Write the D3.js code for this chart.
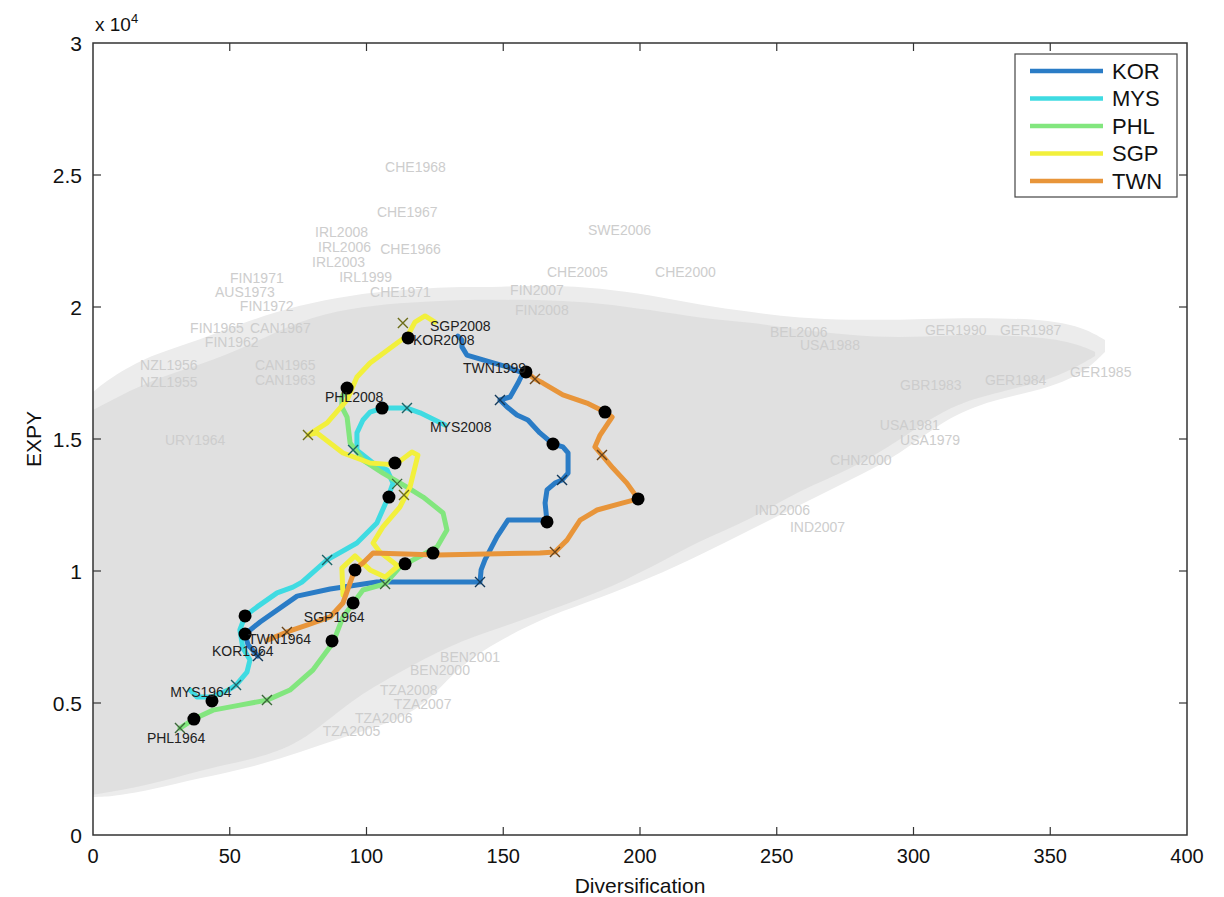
<!DOCTYPE html>
<html>
<head>
<meta charset="utf-8">
<script src="https://cdn.jsdelivr.net/npm/d3@7"></script>
<style>
  body { margin: 0; background: #fff; }
  svg { display: block; font-family: "Liberation Sans", Arial, sans-serif; }
</style>
</head>
<body>
<div id="chart"></div>
<script>
// axis ticks
const xTicks = [0, 50, 100, 150, 200, 250, 300, 350, 400];
const yTicks = [0, 5000, 10000, 15000, 20000, 25000, 30000];
const yTickLabels = ['0', '0.5', '1', '1.5', '2', '2.5', '3'];

// country trajectories, [diversification, EXPY]
const countries = ['KOR', 'MYS', 'PHL', 'SGP', 'TWN'];
const colors = ['#2a7cc6', '#3fdbe2', '#82e67e', '#f2f03c', '#e8953a'];

const korPath = [[60.3,6780],[56.7,7200],[55.6,7610],[61.1,8070],[74.6,9050],[86.7,9320],[103.8,9580],
  [123.2,9580],[141.5,9580],[141.9,10040],[143.3,10420],[147.7,11290],[151.7,11930],[164.5,11930],
  [166.0,11860],[165.3,12580],[166.0,13070],[168.9,13330],[171.5,13450],[173.7,13710],[173.7,14470],
  [171.8,14700],[168.2,14810],[163.4,15230],[159.0,15720],[155.0,15910],[151.4,16210],[148.8,16480],
  [152.5,16590],[155.4,17120],[157.2,17500],[151.4,17730],[145.1,17920],[136.7,18180],[134.9,18490],
  [134.9,18750],[133.4,18900]];
const mysPath = [[35.5,5490],[38.0,5230],[43.5,5230],[49.4,5490],[52.3,5680],[56.3,6170],[57.4,6630],
  [54.8,7080],[53.7,7770],[55.6,8300],[60.0,8640],[67.3,9170],[73.1,9390],[76.4,9580],[85.6,10420],
  [96.5,11060],[103.8,11820],[107.5,12690],[109.7,13330],[107.5,13830],[102.4,14090],[96.5,14580],
  [96.5,15230],[98.7,15720],[101.3,16020],[105.7,16170],[114.8,16170],[119.6,15990],[128.7,15530]];
const phlPath = [[31.8,4050],[36.9,4390],[43.9,4730],[53.7,4920],[63.6,5110],[72.0,5490],[80.4,6250],
  [87.7,7270],[91.4,8260],[98.7,9280],[106.8,9510],[112.2,10150],[125.8,10910],[129.4,11550],
  [128.0,12200],[120.7,12800],[114.8,13180],[106.0,13710],[98.7,14200],[94.0,14850],[92.9,15830],
  [91.0,16210],[91.0,16590],[92.9,16930]];
const sgpPath = [[91.4,9090],[91.0,10110],[95.8,10570],[101.3,10040],[106.8,9770],[111.5,10190],
  [104.9,10720],[102.4,11060],[106.0,11670],[112.2,12420],[115.9,13180],[118.8,14390],[116.6,14510],
  [110.4,14020],[101.3,14090],[91.4,14470],[81.9,15230],[78.6,15150],[85.6,15610],[92.9,16480],
  [96.5,17350],[101.3,17880],[111.2,18640],[115.2,18940],[117.7,19430],[121.4,19660],[125.0,19430]];
const twnPath = [[64.0,7390],[70.9,7690],[78.2,7950],[86.7,8260],[91.4,8790],[94.0,9550],[95.8,10080],
  [98.7,10300],[102.4,10680],[125.8,10610],[163.4,10680],[168.9,10720],[173.3,11170],[178.1,11930],
  [184.3,12310],[193.8,12580],[199.3,12730],[195.2,13330],[190.1,13900],[186.1,14390],[183.5,14700],
  [185.4,15150],[189.8,15830],[187.2,16020],[180.6,16360],[171.8,16670],[164.5,17120],[161.6,17270],
  [158.3,17540]];
const paths = [korPath, mysPath, phlPath, sgpPath, twnPath];

// decade markers (filled dots) and cross markers, with owning country
const dotPoints = [[115.2,18830],[92.9,16930],[105.7,16170],[110.4,14090],[108.2,12800],[124.3,10680],
  [114.1,10270],[95.8,10040],[95.1,8790],[87.4,7350],[55.6,8300],[55.6,7610],[43.5,5080],[36.9,4390],
  [158.3,17540],[187.2,16020],[168.2,14810],[199.3,12730],[166.0,11860]];
const crossPoints = [[113.3,19390,'SGP'],[78.6,15150,'SGP'],[114.8,16170,'MYS'],[95.1,14580,'MYS'],
  [111.2,13300,'PHL'],[113.7,12880,'SGP'],[85.6,10420,'MYS'],[106.8,9510,'PHL'],[141.5,9580,'KOR'],
  [168.9,10720,'TWN'],[148.8,16480,'KOR'],[161.6,17270,'TWN'],[186.1,14390,'TWN'],[171.5,13450,'KOR'],
  [70.9,7690,'TWN'],[60.3,6780,'KOR'],[52.3,5680,'MYS'],[63.6,5110,'PHL'],[31.8,4050,'PHL']];

// start / end labels
const endLabels = [['SGP2008',123.2,19280],['KOR2008',117.0,18760],['TWN1999',135.3,17690],
  ['PHL2008',84.8,16590],['MYS2008',123.2,15450],['SGP1964',77.1,8260],['TWN1964',56.7,7420],
  ['KOR1964',43.5,6950],['MYS1964',28.2,5420],['PHL1964',19.7,3670]];

// background cloud of all other country-years: envelope (x, top, bottom)
const cloudX      = [0, 6.2, 20.8, 39.1, 57.4, 75.7, 94.0, 112.2, 123.2, 134.2, 148.8, 167.1, 185.4, 203.7,
  222.0, 240.2, 258.5, 276.8, 295.0, 313.3, 331.6, 349.9, 362.7, 370.0];
const cloudTop    = [16780, 17310, 18180, 18750, 19510, 20080, 20450, 20640, 20720, 20760, 20760, 20830,
  20720, 20450, 20080, 19810, 19580, 19510, 19510, 19580, 19580, 19510, 19200, 18750];
const cloudBottom = [1440, 1440, 1700, 2160, 2540, 3140, 3790, 4360, 5110, 6440, 7390, 8330, 8980, 9730,
  10610, 11550, 12500, 13450, 14390, 15910, 16550, 16930, 17540, 18300];
const denseX      = [0, 20.8, 39.1, 57.4, 75.7, 94.0, 112.2, 130.5, 148.8, 167.1, 185.4, 203.7, 222.0,
  240.2, 258.5, 276.8, 295.0, 313.3, 331.6, 349.9, 360.9, 366.4];
const denseTop    = [16100, 17240, 17800, 18560, 19510, 19960, 20150, 20270, 20270, 20270, 20150, 19890,
  19580, 19430, 19130, 18940, 18830, 18940, 18940, 18830, 18560, 18300];
const denseBottom = [1520, 1890, 2460, 2840, 3410, 5110, 6170, 7200, 7840, 8520, 9200, 10110, 11170, 11930,
  13070, 13830, 14960, 16290, 16780, 17240, 17800, 18140];

// readable gray country-year labels
const grayLabels = [['CHE1968',106.8,25300],['CHE1967',103.8,23600],['IRL2008',81.2,22840],
  ['IRL2006',82.3,22280],['IRL2003',80.1,21700],['IRL1999',90.0,21140],['CHE1966',105.0,22200],
  ['SWE2006',181.0,22920],['FIN1971',50.1,21100],['AUS1973',44.6,20560],['FIN1972',53.7,20020],
  ['CHE2005',166.0,21330],['CHE2000',205.5,21330],['FIN2007',152.5,20640],['FIN2008',154.3,19890],
  ['CHE1971',101.3,20570],['BEL2006',247.5,19050],['USA1988',258.5,18560],['GER1990',304.2,19130],
  ['GER1987',331.6,19130],['GER1984',326.1,17240],['GER1985',357.2,17540],['GBR1983',295.1,17050],
  ['USA1979',295.1,14960],['USA1981',287.7,15530],['CHN2000',269.5,14200],['IND2006',242.0,12310],
  ['IND2007',254.8,11670],['FIN1965',35.5,19200],['CAN1967',57.4,19200],['FIN1962',40.9,18670],
  ['NZL1956',17.2,17800],['NZL1955',17.2,17160],['CAN1965',59.2,17800],['CAN1963',59.2,17240],
  ['URY1964',26.3,14960],['BEN2000',115.9,6250],['BEN2001',126.9,6740],['TZA2008',104.9,5500],
  ['TZA2007',110.0,4970],['TZA2006',95.8,4440],['TZA2005',84.0,3920]];

const width = 1224, height = 897;
const margin = { left: 93, right: 37, top: 43, bottom: 62 };

const svg = d3.select('#chart').append('svg')
  .attr('width', width)
  .attr('height', height);

const x = d3.scaleLinear().domain([0, 400]).range([margin.left, width - margin.right]);
const y = d3.scaleLinear().domain([0, 30000]).range([height - margin.bottom, margin.top]);

const plot = svg.append('g');

// gray cloud
const outer = cloudX.map((v, i) => [v, cloudTop[i], cloudBottom[i]]);
const dense = denseX.map((v, i) => [v, denseTop[i], denseBottom[i]]);
const area = d3.area().x(d => x(d[0])).y0(d => y(d[2])).y1(d => y(d[1])).curve(d3.curveBasis);
plot.append('path').datum(outer).attr('d', area).attr('fill', '#ececec');
plot.append('path').datum(dense).attr('d', area).attr('fill', '#e0e0e0');

plot.selectAll('text.gray')
  .data(grayLabels)
  .enter().append('text')
  .attr('class', 'gray')
  .attr('x', d => x(d[1]))
  .attr('y', d => y(d[2]))
  .attr('dy', '0.35em')
  .attr('font-size', 14)
  .attr('fill', '#cdcdcd')
  .text(d => d[0]);

// trajectories
const line = d3.line().x(d => x(d[0])).y(d => y(d[1])).curve(d3.curveLinear);
plot.selectAll('path.traj')
  .data(paths)
  .enter().append('path')
  .attr('class', 'traj')
  .attr('d', line)
  .attr('fill', 'none')
  .attr('stroke', (d, i) => colors[i])
  .attr('stroke-width', 5)
  .attr('stroke-linejoin', 'round')
  .attr('stroke-linecap', 'round');

// cross markers
const cs = 5;
plot.selectAll('path.cross')
  .data(crossPoints)
  .enter().append('path')
  .attr('class', 'cross')
  .attr('d', d => {
    const px = x(d[0]), py = y(d[1]);
    return `M${px - cs},${py - cs}L${px + cs},${py + cs}M${px - cs},${py + cs}L${px + cs},${py - cs}`;
  })
  .attr('stroke', d => d3.color(colors[countries.indexOf(d[2])]).darker(2.2))
  .attr('stroke-width', 1.4);

// dots
plot.selectAll('circle.dot')
  .data(dotPoints)
  .enter().append('circle')
  .attr('class', 'dot')
  .attr('cx', d => x(d[0]))
  .attr('cy', d => y(d[1]))
  .attr('r', 6.5)
  .attr('fill', '#000');

// year labels
plot.selectAll('text.yr')
  .data(endLabels)
  .enter().append('text')
  .attr('class', 'yr')
  .attr('x', d => x(d[1]))
  .attr('y', d => y(d[2]))
  .attr('dy', '0.35em')
  .attr('font-size', 14)
  .attr('fill', '#222')
  .text(d => d[0]);

// frame and ticks, matlab style
const axisColor = '#333';
svg.append('rect')
  .attr('x', x(0)).attr('y', y(30000))
  .attr('width', x(400) - x(0)).attr('height', y(0) - y(30000))
  .attr('fill', 'none').attr('stroke', axisColor).attr('stroke-width', 1.5);

const tl = 8;
svg.selectAll('g.xt')
  .data(xTicks.slice(1, -1))
  .enter().append('g')
  .each(function(d) {
    const g = d3.select(this);
    g.append('line').attr('x1', x(d)).attr('x2', x(d)).attr('y1', y(0)).attr('y2', y(0) - tl);
    g.append('line').attr('x1', x(d)).attr('x2', x(d)).attr('y1', y(30000)).attr('y2', y(30000) + tl);
  })
  .attr('stroke', axisColor).attr('stroke-width', 1.2);

svg.selectAll('g.yt')
  .data(yTicks.slice(1, -1))
  .enter().append('g')
  .each(function(d) {
    const g = d3.select(this);
    g.append('line').attr('x1', x(0)).attr('x2', x(0) + tl).attr('y1', y(d)).attr('y2', y(d));
    g.append('line').attr('x1', x(400)).attr('x2', x(400) - tl).attr('y1', y(d)).attr('y2', y(d));
  })
  .attr('stroke', axisColor).attr('stroke-width', 1.2);

svg.selectAll('text.xl')
  .data(xTicks)
  .enter().append('text')
  .attr('x', d => x(d))
  .attr('y', y(0) + 28)
  .attr('text-anchor', 'middle')
  .attr('font-size', 20)
  .attr('fill', '#111')
  .text(d => d);

svg.selectAll('text.yl')
  .data(yTicks)
  .enter().append('text')
  .attr('x', x(0) - 11)
  .attr('y', d => y(d))
  .attr('dy', '0.36em')
  .attr('text-anchor', 'end')
  .attr('font-size', 21)
  .attr('fill', '#111')
  .text((d, i) => yTickLabels[i]);

// exponent
const expo = svg.append('text').attr('x', x(0) + 2).attr('y', 31).attr('font-size', 19).attr('fill', '#111');
expo.append('tspan').text('x 10');
expo.append('tspan').attr('dy', -8).attr('font-size', 13).text('4');

svg.append('text')
  .attr('x', (x(0) + x(400)) / 2)
  .attr('y', 893)
  .attr('text-anchor', 'middle')
  .attr('font-size', 21)
  .attr('fill', '#111')
  .text('Diversification');

svg.append('text')
  .attr('transform', `translate(41,${(y(0) + y(30000)) / 2}) rotate(-90)`)
  .attr('text-anchor', 'middle')
  .attr('font-size', 21)
  .attr('fill', '#111')
  .text('EXPY');

// legend
const legend = svg.append('g').attr('transform', 'translate(1015,54)');
legend.append('rect').attr('width', 162).attr('height', 143)
  .attr('fill', '#fff').attr('stroke', '#444').attr('stroke-width', 1.2);
countries.forEach((c, i) => {
  const ly = 17 + i * 27.5;
  legend.append('line').attr('x1', 15).attr('x2', 88).attr('y1', ly).attr('y2', ly)
    .attr('stroke', colors[i]).attr('stroke-width', 4.5);
  legend.append('text').attr('x', 97).attr('y', ly).attr('dy', '0.36em')
    .attr('font-size', 22).attr('fill', '#111').text(c);
});
</script>
</body>
</html>
